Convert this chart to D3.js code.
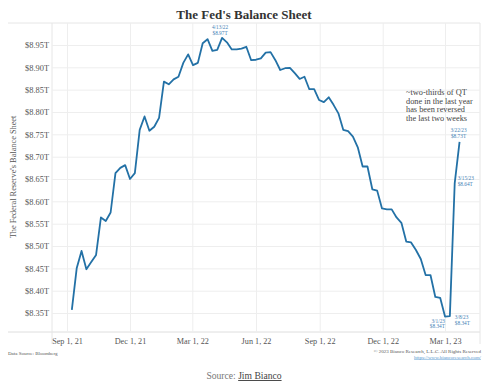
<!DOCTYPE html>
<html><head><meta charset="utf-8">
<script src="https://cdn.jsdelivr.net/npm/d3@7/dist/d3.min.js"></script>
<style>body{margin:0;background:#fff}svg{display:block}</style>
</head><body>
<script>
const dates = ["2021-09-08","2021-09-15","2021-09-22","2021-09-29","2021-10-06","2021-10-13","2021-10-20","2021-10-27",
"2021-11-03","2021-11-10","2021-11-17","2021-11-24","2021-12-01","2021-12-08","2021-12-15","2021-12-22","2021-12-29",
"2022-01-05","2022-01-12","2022-01-19","2022-01-26","2022-02-02","2022-02-09","2022-02-16","2022-02-23",
"2022-03-02","2022-03-09","2022-03-16","2022-03-23","2022-03-30","2022-04-06","2022-04-13","2022-04-20","2022-04-27",
"2022-05-04","2022-05-11","2022-05-18","2022-05-25","2022-06-01","2022-06-08","2022-06-15","2022-06-22","2022-06-29",
"2022-07-06","2022-07-13","2022-07-20","2022-07-27","2022-08-03","2022-08-10","2022-08-17","2022-08-24","2022-08-31",
"2022-09-07","2022-09-14","2022-09-21","2022-09-28","2022-10-05","2022-10-12","2022-10-19","2022-10-26",
"2022-11-02","2022-11-09","2022-11-16","2022-11-23","2022-11-30","2022-12-07","2022-12-14","2022-12-21","2022-12-28",
"2023-01-04","2023-01-11","2023-01-18","2023-01-25","2023-02-01","2023-02-08","2023-02-15","2023-02-22",
"2023-03-01","2023-03-08","2023-03-15","2023-03-22"];
const values = [8.357,8.450,8.489,8.448,8.464,8.480,8.564,8.556,
8.575,8.663,8.675,8.681,8.650,8.663,8.760,8.790,8.758,
8.767,8.787,8.868,8.862,8.873,8.879,8.910,8.929,
8.905,8.910,8.954,8.963,8.937,8.939,8.966,8.956,8.940,
8.940,8.942,8.946,8.916,8.917,8.920,8.933,8.934,8.916,
8.894,8.898,8.899,8.887,8.874,8.879,8.851,8.851,8.827,
8.822,8.833,8.816,8.797,8.760,8.757,8.745,8.721,
8.678,8.678,8.627,8.624,8.584,8.582,8.582,8.564,8.552,
8.510,8.508,8.491,8.471,8.435,8.435,8.386,8.384,
8.342,8.343,8.640,8.733];
const yTicks = [8.35,8.40,8.45,8.50,8.55,8.60,8.65,8.70,8.75,8.80,8.85,8.90,8.95];
const xTickDates = ["2021-09-01","2021-12-01","2022-03-01","2022-06-01","2022-09-01","2022-12-01","2023-03-01"];
const xTickLabels = ["Sep 1, 21","Dec 1, 21","Mar 1, 22","Jun 1, 22","Sep 1, 22","Dec 1, 22","Mar 1, 23"];
const pointLabelDates = ["2022-04-13","2023-03-22","2023-03-15","2023-03-01","2023-03-08"];
const pointLabelTexts = [["4/13/22","$8.97T"],["3/22/23","$8.73T"],["3/15/23","$8.64T"],["3/1/23","$8.34T"],["3/8/23","$8.34T"]];
const noteLines = ["~two-thirds of QT","done in the last year","has been reversed","the last two weeks"];

const W=500,H=391;
const parse = d3.timeParse("%Y-%m-%d");
const data = dates.map((d,i)=>({date:parse(d), value:values[i]}));
const L=52,R=480,T=23,B=332;
const x = d3.scaleTime().domain([new Date(2021,7,10,8), new Date(2023,3,20,13)]).range([L,R]);
const y = d3.scaleLinear().domain([8.3075,8.99925]).range([B,T]);
const serif = "'Liberation Serif','Times New Roman',serif";

const svg = d3.select("body").append("svg").attr("width",W).attr("height",H);

// frame
svg.append("line").attr("x1",8).attr("x2",R).attr("y1",T).attr("y2",T).attr("stroke","#e6e6e6");
svg.append("line").attr("x1",8).attr("x2",R).attr("y1",B).attr("y2",B).attr("stroke","#dedede");
svg.append("line").attr("x1",L).attr("x2",L).attr("y1",T).attr("y2",344).attr("stroke","#e6e6e6");
svg.append("line").attr("x1",R).attr("x2",R).attr("y1",T).attr("y2",344).attr("stroke","#e6e6e6");

// y axis with grid
const yAxis = d3.axisLeft(y).tickValues(yTicks).tickSize(-(R-L)).tickPadding(3)
  .tickFormat(d=>"$"+d3.format(".2f")(d)+"T");
const gy = svg.append("g").attr("transform",`translate(${L},0)`).call(yAxis);
gy.select(".domain").remove();
gy.selectAll(".tick line").attr("stroke","#eeeeee");
gy.selectAll(".tick text").attr("font-family",serif).attr("font-size",8.4).attr("fill","#555").attr("x",-3);

// x axis with grid
const xAxis = d3.axisBottom(x).tickValues(xTickDates.map(parse)).tickSize(-(B-T)).tickPadding(6)
  .tickFormat((d,i)=>xTickLabels[i]);
const gx = svg.append("g").attr("transform",`translate(0,${B})`).call(xAxis);
gx.select(".domain").remove();
gx.selectAll(".tick line").attr("stroke","#eeeeee");
gx.selectAll(".tick text").attr("font-family",serif).attr("font-size",8.2).attr("fill","#555");

// line
svg.append("path").datum(data)
  .attr("d", d3.line().x(d=>x(d.date)).y(d=>y(d.value)))
  .attr("fill","none").attr("stroke","#2371a6").attr("stroke-width",1.8).attr("stroke-linejoin","round");

// point labels
const lab = svg.append("g").attr("font-family",serif).attr("font-size",5.3).attr("fill","#3f80b5");
const offs = [{dx:-2,dy:-8.5,a:"middle"},{dx:-1,dy:-9.5,a:"middle"},{dx:3,dy:-3.3,a:"start"},{dx:0,dy:6.5,a:"end"},{dx:5,dy:3,a:"start"}];
pointLabelDates.forEach((ds,i)=>{
  const pd = data.find(d=>+d.date===+parse(ds));
  const px = x(pd.date), py = y(pd.value);
  pointLabelTexts[i].forEach((t,j)=>{
    lab.append("text").attr("x",px+offs[i].dx).attr("y",py+offs[i].dy+j*5.4)
      .attr("text-anchor",offs[i].a).text(t);
  });
});

// note
const note = svg.append("g").attr("font-family",serif).attr("font-size",8.3).attr("fill","#444");
noteLines.forEach((t,i)=>note.append("text").attr("x",406).attr("y",95+i*8.7).text(t));

// title
svg.append("text").attr("x",244).attr("y",19).attr("text-anchor","middle")
  .attr("font-family",serif).attr("font-weight","bold").attr("font-size",13).attr("fill","#333")
  .text("The Fed's Balance Sheet");

// y title
svg.append("text").attr("transform","translate(16,177) rotate(-90)").attr("text-anchor","middle")
  .attr("font-family",serif).attr("font-size",8.3).attr("fill","#555")
  .text("The Federal Reserve's Balance Sheet");

// footer
svg.append("text").attr("x",8).attr("y",355).attr("font-family",serif).attr("font-size",5).attr("fill","#555").text("Data Source: Bloomberg");
svg.append("text").attr("x",481).attr("y",353).attr("text-anchor","end").attr("font-family",serif).attr("font-size",5).attr("fill","#555").text("© 2023 Bianco Research, L.L.C. All Rights Reserved");
svg.append("text").attr("x",481).attr("y",358.5).attr("text-anchor","end").attr("font-family",serif).attr("font-size",5).attr("fill","#5b9bd0").attr("text-decoration","underline").text("https://www.biancoresearch.com/");

const src = svg.append("text").attr("x",244).attr("y",379).attr("text-anchor","middle")
  .attr("font-family",serif).attr("font-size",9.6).attr("fill","#777");
src.append("tspan").text("Source: ");
src.append("tspan").attr("fill","#444").attr("text-decoration","underline").text("Jim Bianco");
</script>
</body></html>
